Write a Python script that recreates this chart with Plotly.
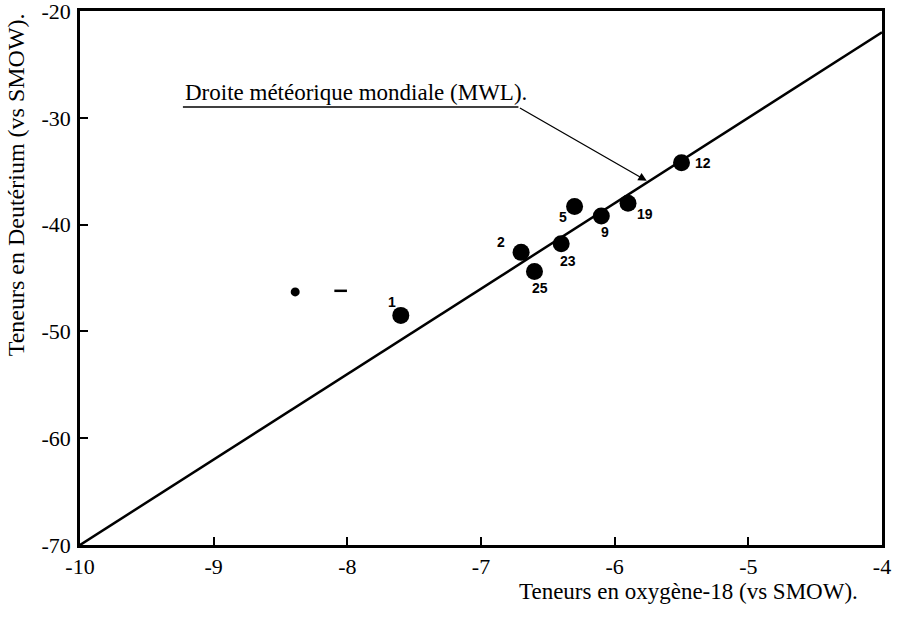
import plotly.graph_objects as go

# --- data ---
sample_ids = ["1", "2", "25", "23", "5", "9", "19", "12"]
oxygen18 = [-7.6, -6.7, -6.6, -6.4, -6.3, -6.1, -5.9, -5.5]
deuterium = [-48.5, -42.6, -44.4, -41.8, -38.3, -39.2, -38.0, -34.2]

# Global meteoric water line end points (dD = 8 d18O + 10)
mwl_x = [-10, -4]
mwl_y = [-70, -22]

# small stray marks present on the original figure
stray_x = [-8.39, -8.05]
stray_y = [-46.3, -46.2]

x_ticks = [-10, -9, -8, -7, -6, -5, -4]
y_ticks = [-70, -60, -50, -40, -30, -20]

mwl_label = "Droite météorique mondiale (MWL)."
x_title = "Teneurs en oxygène-18 (vs SMOW)."
y_title = "Teneurs en Deutérium (vs SMOW)."

# label pixel offsets (style only)
label_shift = {
    "1": (-9, 13), "2": (-20, 10), "25": (6, -16), "23": (7, -17),
    "5": (-12, -11), "9": (4, -16), "19": (17, -11), "12": (21, 0),
}

SERIF = "Liberation Serif"
SANS = "Liberation Sans"

fig = go.Figure()

fig.add_trace(go.Scatter(
    x=mwl_x, y=mwl_y, mode="lines",
    line=dict(color="black", width=2.5), hoverinfo="skip", showlegend=False))

fig.add_trace(go.Scatter(
    x=oxygen18, y=deuterium, mode="markers",
    marker=dict(color="black", size=17, line=dict(width=0)),
    showlegend=False))

fig.add_trace(go.Scatter(
    x=stray_x[:1], y=stray_y[:1], mode="markers",
    marker=dict(color="black", size=9, symbol="circle", line=dict(width=0)),
    hoverinfo="skip", showlegend=False))
fig.add_trace(go.Scatter(
    x=stray_x[1:], y=stray_y[1:], mode="markers",
    marker=dict(color="black", size=9, symbol="line-ew",
                line=dict(color="black", width=2.5)),
    hoverinfo="skip", showlegend=False))

for sid, xv, yv in zip(sample_ids, oxygen18, deuterium):
    dx, dy = label_shift[sid]
    fig.add_annotation(x=xv, y=yv, text="<b>" + sid + "</b>", showarrow=False,
                       xshift=dx, yshift=dy,
                       font=dict(family=SANS, size=14, color="black"))

# MWL annotation: underlined text with arrow to the line
ul_x0, ul_x1, ul_y = -9.23, -6.72, -29.0
tip_x, tip_y = -5.76, -35.9
fig.add_shape(type="line", x0=ul_x0, x1=ul_x1, y0=ul_y, y1=ul_y,
              xref="x", yref="y", line=dict(color="black", width=1.5))
fig.add_annotation(x=ul_x0, y=ul_y, text=mwl_label, showarrow=False,
                   xanchor="left", yanchor="bottom", yshift=0,
                   font=dict(family=SERIF, size=23, color="black"))
fig.add_annotation(x=tip_x, y=tip_y, ax=ul_x1, ay=ul_y, axref="x", ayref="y",
                   xref="x", yref="y", text="", showarrow=True,
                   arrowhead=2, arrowsize=1.3, arrowwidth=1.3, arrowcolor="black")

# axis titles
fig.add_annotation(x=-0.08, y=1.0, xref="paper", yref="paper", text=y_title,
                   textangle=-90, showarrow=False, xanchor="center", yanchor="top",
                   font=dict(family=SERIF, size=24, color="black"))
fig.add_annotation(x=0.973, y=-0.088, xref="paper", yref="paper", text=x_title,
                   showarrow=False, xanchor="right", yanchor="middle",
                   font=dict(family=SERIF, size=23, color="black"))

axis_common = dict(showgrid=False, zeroline=False, showline=True, linecolor="black",
                   linewidth=2.5, mirror=True, ticks="inside", tickcolor="black",
                   tickwidth=1.5, ticklen=8, automargin=False, ticklabeloverflow="allow",
                   tickfont=dict(family=SERIF, size=22, color="black"))

fig.update_xaxes(range=[-10, -4], tickvals=x_ticks, ticktext=[str(v) for v in x_ticks],
                 ticklabelstandoff=0, **axis_common)
fig.update_yaxes(range=[-70, -20], tickvals=y_ticks, ticktext=[str(v) for v in y_ticks],
                 ticklabelstandoff=2, **axis_common)

fig.update_layout(width=897, height=618, paper_bgcolor="white", plot_bgcolor="white",
                  margin=dict(l=80, r=15, t=11, b=73, autoexpand=False), showlegend=False)

fig.write_html("out.html", config={"displayModeBar": False},
               post_script="document.body.style.margin='0';document.body.style.overflow='hidden';")
